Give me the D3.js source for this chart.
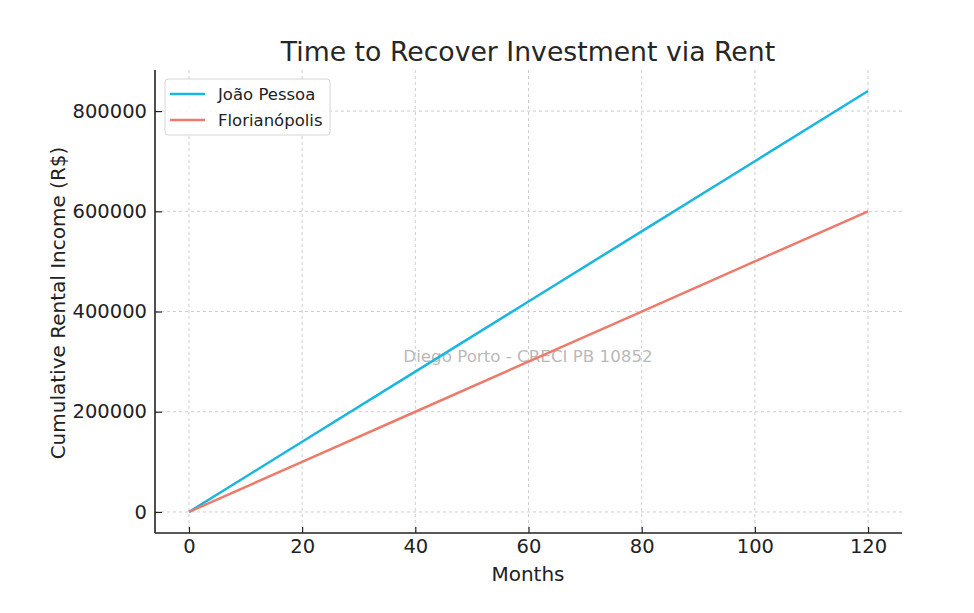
<!DOCTYPE html>
<html><head><meta charset="utf-8">
<script src="https://cdn.jsdelivr.net/npm/d3@7"></script>
<style>body{margin:0;background:#fff}svg{display:block}</style>
</head><body>
<script>
const months = [0, 20, 40, 60, 80, 100, 120];
const joaoPessoa = [0, 140000, 280000, 420000, 560000, 700000, 840000];
const florianopolis = [0, 100000, 200000, 300000, 400000, 500000, 600000];
const seriesNames = ["João Pessoa", "Florianópolis"];
const seriesColors = ["#1bb6df", "#ec7b6b"];
const xTicks = [0, 20, 40, 60, 80, 100, 120];
const yTicks = [0, 200000, 400000, 600000, 800000];

const W = 974, H = 613;
const svg = d3.select("body").append("svg").attr("width", W).attr("height", H);
const font = "DejaVu Sans, sans-serif";
const x = d3.scaleLinear().domain([-6, 126]).range([155, 902]);
const y = d3.scaleLinear().domain([-42000, 882000]).range([533, 70]);

// grid
const g = svg.append("g");
g.selectAll(".vg").data(xTicks).join("line")
  .attr("x1", d => x(d)).attr("x2", d => x(d)).attr("y1", 70).attr("y2", 533)
  .attr("stroke", "#c8c8c8").attr("stroke-width", 0.9).attr("stroke-dasharray", "3,3");
g.selectAll(".hg").data(yTicks).join("line")
  .attr("x1", 155).attr("x2", 902).attr("y1", d => y(d)).attr("y2", d => y(d))
  .attr("stroke", "#c8c8c8").attr("stroke-width", 0.9).attr("stroke-dasharray", "3,3");

// watermark
svg.append("text").attr("x", 528).attr("y", 362).attr("text-anchor", "middle")
  .attr("font-family", font).attr("font-size", 16.7).attr("fill", "#b0b0b0").attr("fill-opacity", 0.9)
  .text("Diego Porto - CRECI PB 10852");

// lines
const data = [joaoPessoa, florianopolis];
const line = d3.line().x((d, i) => x(months[i])).y(d => y(d));
data.forEach((s, k) => {
  svg.append("path").datum(s).attr("d", line).attr("fill", "none")
    .attr("stroke", seriesColors[k]).attr("stroke-width", 2.5);
});

// axes (ticks pointing inward)
const xAxis = svg.append("g").attr("transform", "translate(0,533)")
  .call(d3.axisBottom(x).tickValues(xTicks).tickSize(-6).tickPadding(6).tickFormat(d3.format("d")));
const yAxis = svg.append("g").attr("transform", "translate(155,0)")
  .call(d3.axisLeft(y).tickValues(yTicks).tickSize(-7).tickPadding(8).tickFormat(d3.format("d")));
[xAxis, yAxis].forEach(a => {
  a.select(".domain").attr("stroke", "#222").attr("stroke-width", 1.6);
  a.selectAll(".tick line").attr("stroke", "#222").attr("stroke-width", 1.2);
  a.selectAll(".tick text").attr("font-family", font).attr("font-size", 19.5).attr("fill", "#222");
});
xAxis.select(".domain").attr("d", `M155,0H902`);
yAxis.select(".domain").attr("d", `M0,70V533`);

// labels
svg.append("text").attr("x", 528).attr("y", 61).attr("text-anchor", "middle")
  .attr("font-family", font).attr("font-size", 26.7).attr("fill", "#262626")
  .text("Time to Recover Investment via Rent");
svg.append("text").attr("x", 528).attr("y", 581).attr("text-anchor", "middle")
  .attr("font-family", font).attr("font-size", 20).attr("fill", "#222").text("Months");
svg.append("text").attr("transform", "translate(65,303) rotate(-90)").attr("text-anchor", "middle")
  .attr("font-family", font).attr("font-size", 20).attr("fill", "#222")
  .text("Cumulative Rental Income (R$)");

// legend
const lg = svg.append("g");
lg.append("rect").attr("x", 165).attr("y", 79).attr("width", 165).attr("height", 56)
  .attr("rx", 3).attr("fill", "#fff").attr("fill-opacity", 0.85).attr("stroke", "#d6d6d6");
seriesNames.forEach((n, i) => {
  const yy = 94 + i * 26;
  lg.append("line").attr("x1", 170).attr("x2", 205).attr("y1", yy).attr("y2", yy)
    .attr("stroke", seriesColors[i]).attr("stroke-width", 2.5);
  lg.append("text").attr("x", 218).attr("y", yy + 6).attr("font-family", font)
    .attr("font-size", 16.5).attr("fill", "#222").text(n);
});
</script>
</body></html>
